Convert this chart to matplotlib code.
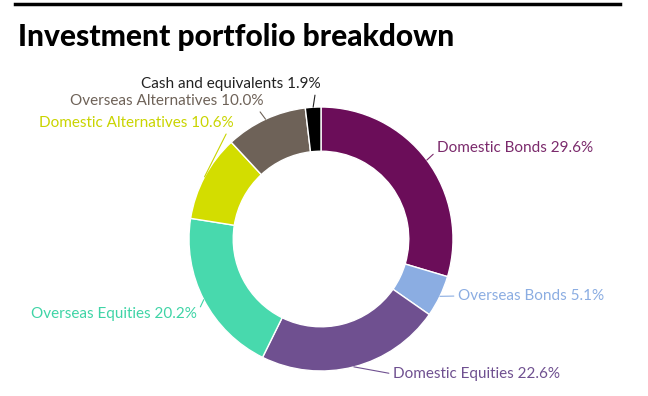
import numpy as np
import matplotlib
matplotlib.use("Agg")
import matplotlib.pyplot as plt
from matplotlib.lines import Line2D

# data
categories = ["Domestic Bonds", "Overseas Bonds", "Domestic Equities", "Overseas Equities",
              "Domestic Alternatives", "Overseas Alternatives", "Cash and equivalents"]
shares = [29.6, 5.1, 22.6, 20.2, 10.6, 10.0, 1.9]
slice_colors = ["#6b0d59", "#8badE2", "#6f5090", "#48d9ad", "#d3dd00", "#6e6258", "#000000"]
text_colors = ["#7b2a6c", "#8badE2", "#6f5090", "#3fd4a6", "#c9d400", "#6e6258", "#222222"]

# label text positions in pixels (x, y, ha) and where the leader attaches on the text
label_pos = [(437, 148, "left"), (458, 296, "left"), (393, 374, "left"), (197, 314, "right"),
             (234, 123, "right"), (263, 101, "right"), (321, 84, "right")]
attach = [(0, 0.3), (0, 0.5), (0, 0.5), (1, 0.5), (0.97, 0), (0.97, 0), (0.97, 0)]

W, H = 648, 396
fig = plt.figure(figsize=(W / 100, H / 100), dpi=100)

cx, cy, R = 321, 239, 132
ax = fig.add_axes([(cx - R) / W, (H - cy - R) / H, 2 * R / W, 2 * R / H])
ax.pie(shares, colors=slice_colors, startangle=90, counterclock=False, radius=1,
       wedgeprops=dict(width=0.335, edgecolor="white", linewidth=1))
ax.set_xlim(-1, 1)
ax.set_ylim(-1, 1)
ax.set_aspect("equal")
ax.axis("off")

# leader lines + labels
cum = np.cumsum([0] + shares[:-1])
for i, (name, v) in enumerate(zip(categories, shares)):
    mid = np.deg2rad(90 - (cum[i] + v / 2) * 3.6)
    px = cx + R * np.cos(mid)
    py = cy - R * np.sin(mid)
    tx, ty, ha = label_pos[i]
    ax_x = (px - cx) / R
    ax_y = (cy - py) / R
    txt_x = (tx - cx) / R
    txt_y = (cy - ty) / R
    ax.annotate(f"{name} {v:.1f}%", xy=(ax_x, ax_y), xytext=(txt_x, txt_y),
                ha=ha, va="center", fontsize=11, color=text_colors[i],
                family=["Lato", "DejaVu Sans"],
                annotation_clip=False,
                arrowprops=dict(arrowstyle="-", color=text_colors[i], lw=0.8,
                                shrinkA=1, shrinkB=0, relpos=attach[i],
                                connectionstyle="arc3,rad=0"))

# top rule and title
fig.add_artist(Line2D([15 / W, 620 / W], [1 - 4 / H, 1 - 4 / H], color="black", lw=2.5))
fig.text(18 / W, 1 - 37 / H, "Investment portfolio breakdown", fontsize=21.5, fontweight="black",
         family=["Lato", "DejaVu Sans"], va="center", ha="left", color="black")

fig.savefig("out.png", dpi=100)
